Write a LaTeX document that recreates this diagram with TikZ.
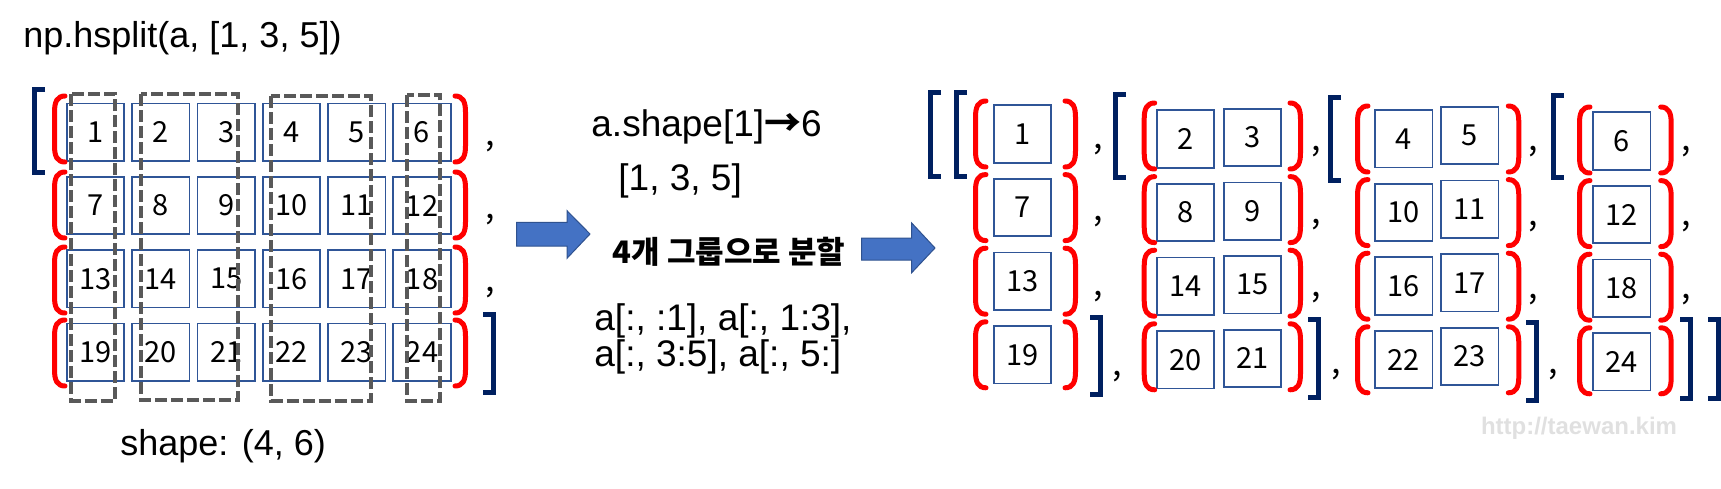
\documentclass[tikz,border=0pt]{standalone}
\usepackage{fontspec}
\setmainfont{Liberation Sans}
\newfontfamily\kofont{Noto Sans CJK KR}
\usepackage{tikz}

\definecolor{cellblue}{HTML}{2F5597}
\definecolor{navy}{HTML}{002060}
\definecolor{dashgray}{HTML}{595959}
\definecolor{arrowblue}{HTML}{4472C4}
\definecolor{arrowedge}{HTML}{2F528F}

% red curly brackets: left x, centre y
\newcommand{\lcurl}[2]{\draw[curl] (#1+13,#2-33) .. controls (#1+5,#2-33) and (#1+2.5,#2-27) .. (#1+2.5,#2-17) -- (#1+2.5,#2+17) .. controls (#1+2.5,#2+27) and (#1+5,#2+33) .. (#1+13,#2+33);}
\newcommand{\rcurl}[2]{\draw[curl] (#1,#2-33) .. controls (#1+8,#2-33) and (#1+10.5,#2-27) .. (#1+10.5,#2-17) -- (#1+10.5,#2+17) .. controls (#1+10.5,#2+27) and (#1+8,#2+33) .. (#1,#2+33);}
% square brackets: left x, top, bottom
\newcommand{\opensq}[3]{\draw[sqbr] (#1+13,#2+2.5) -- (#1+2.5,#2+2.5) -- (#1+2.5,#3-2.5) -- (#1+13,#3-2.5);}
\newcommand{\closesq}[3]{\draw[sqbr] (#1,#2+2.5) -- (#1+10.5,#2+2.5) -- (#1+10.5,#3-2.5) -- (#1,#3-2.5);}

\begin{document}
\begin{tikzpicture}[x=0.5pt,y=-0.5pt,
		cell/.style={draw=cellblue,line width=0.9pt,minimum width=28.7pt,minimum height=28.7pt,inner sep=0pt,font=\kofont\fontsize{14.5}{14.5}\selectfont},
		comma/.style={inner sep=0pt,font=\kofont\fontsize{17}{17}\selectfont},
		curl/.style={red,line width=2.5pt,line cap=round},
		sqbr/.style={navy,line width=2.6pt},
		grpbox/.style={dashgray,line width=2pt,dash pattern=on 6pt off 2pt},
		lbl/.style={inner sep=0pt,anchor=base west,font=\fontsize{18.5}{22}\selectfont},
		blockarrow/.style={fill=arrowblue,draw=arrowedge,line width=0.5pt}]
		\useasboundingbox (0,0) rectangle (1721,488);
		%%
		\node[lbl,font=\fontsize{18}{22}\selectfont] (title) at (23,47) {np.hsplit(a, [1, 3, 5])};
		\node[lbl,font=\fontsize{18}{22}\selectfont] (shapelbl) at (120,455) {shape: (4, 6)};
		%%
		\foreach \r in {0,...,3}
			\foreach \c in {0,...,5}{
				\pgfmathtruncatemacro{\n}{6*\r+\c+1}
				\node[cell] (a\n) at ({95.5+65.3*\c},{132.2+73.3*\r}) {\n};
			}
		\foreach \y in {129,205,280,353}{
			\lcurl{52}{\y}
			\rcurl{455}{\y}
		}
		\opensq{32}{86.7}{175}
		\closesq{483}{311.7}{395}
		\foreach \y [count=\i] in {146.7,220,293}
			\node[comma] (ka\i) at (490,\y) {,};
		%%
		\draw[grpbox] (71.3,94.3) rectangle (114.7,401);
		\draw[grpbox] (140.7,94) rectangle (238,399.7);
		\draw[grpbox] (271.3,96.3) rectangle (370.7,401);
		\draw[grpbox] (407,95) rectangle (440.3,401);
		%%
		\draw[blockarrow] (516.7,222.3) -- (567,222.3) -- (567,210.7) -- (590,234) -- (567,258.3) -- (567,246) -- (516.7,246) -- cycle;
		\node[lbl] (info1) at (591,136.7) {a.shape[1]{\kofont\bfseries →}6};
		\node[lbl] (info2) at (618,190) {[1, 3, 5]};
		\node[inner sep=0pt,font=\kofont\bfseries\fontsize{15.5}{15.5}\selectfont] (kor) at (729,251.7) {4개 그룹으로 분할};
		\draw[blockarrow] (861.7,238) -- (911.7,238) -- (911.7,223) -- (935,248) -- (911.7,272.7) -- (911.7,260) -- (861.7,260) -- cycle;
		\node[lbl] (slices1) at (594,330) {a[:, :1], a[:, 1:3],};
		\node[lbl] (slices2) at (594,366.7) {a[:, 3:5], a[:, 5:]};
		%%
		\foreach \c/\x/\y in {0/1022.5/134, 1/1185.3/139, 2/1252.5/137.5, 3/1403.7/138.7, 4/1469.7/135.5, 5/1621.7/141}
			\foreach \r in {0,...,3}{
				\pgfmathtruncatemacro{\n}{6*\r+\c+1}
				\node[cell] (p\n) at (\x,{\y+73.6*\r}) {\n};
			}
		\foreach \l/\rr/\y in {973/1065/134, 1141.7/1290/136, 1355/1508.3/139, 1577/1660.7/140}
			\foreach \r in {0,...,3}{
				\lcurl{\l}{\y+73.6*\r}
				\rcurl{\rr}{\y+73.6*\r}
			}
		\opensq{928}{90}{179}
		\opensq{954}{90}{179}
		\closesq{1090}{315}{396.7}
		\opensq{1112.7}{91.7}{180}
		\closesq{1308}{316.7}{400}
		\opensq{1328}{95}{182.7}
		\closesq{1526}{320}{402.7}
		\opensq{1550.7}{92.7}{180}
		\closesq{1680}{317}{400.7}
		\closesq{1708.3}{317}{400.7}
		\foreach \x/\y [count=\i] in {1098/150, 1098/222, 1098/296.7, 1117/377, 1316.7/151.7, 1316.7/225, 1316.7/298, 1336.7/375, 1533/151.7, 1533/226.7, 1533/300, 1553/375, 1686.7/151.7, 1686.7/226.7, 1686.7/300}
			\node[comma] (kp\i) at (\x,\y) {,};
		%%
		\node[inner sep=0pt,text=black!12,font=\bfseries\fontsize{12}{12}\selectfont] (wmark) at (1579,428) {http://taewan.kim};
	\end{tikzpicture}
\end{document}
